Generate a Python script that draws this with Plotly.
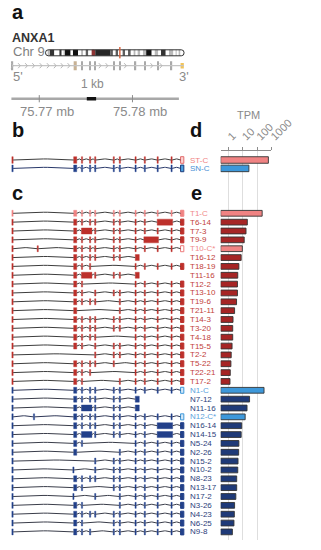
import math
import plotly.graph_objects as go

W, H = 321, 550
FONT = "Liberation Sans, Arial, Helvetica, sans-serif"

# ------------------------------------------------------------------ data
# chromosome 9 cytobands (Mb)
BAND_START = [0, 2.2, 4.6, 9.0, 14.2, 16.6, 18.5, 19.9, 25.6, 28.0, 33.2, 36.3, 38.4,
              41.0, 43.6, 47.3, 49.0, 50.7, 65.9, 68.7, 72.2, 74.0, 79.2, 81.1, 84.1,
              86.9, 90.4, 91.8, 93.9, 96.6, 99.3, 102.6, 108.2, 111.3, 114.9, 117.7,
              122.5, 125.8, 130.3, 133.5, 134.0, 135.9, 137.4]
BAND_STAIN = ['gneg', 'gpos25', 'gpos75', 'gneg', 'gpos75', 'gneg', 'gpos25', 'gpos100',
              'gneg', 'gpos100', 'gneg', 'gpos25', 'gneg', 'gpos50', 'gneg', 'acen', 'acen',
              'gvar', 'gpos50', 'gneg', 'gpos50', 'gneg', 'gpos50', 'gneg', 'gpos50', 'gneg',
              'gpos25', 'gneg', 'gpos25', 'gneg', 'gpos25', 'gpos100', 'gneg', 'gpos25',
              'gneg', 'gpos75', 'gneg', 'gpos25', 'gneg', 'gpos25', 'gneg', 'gpos25', 'gneg']
CHR9_LENGTH = 141.2
ANXA1_MB = 75.77

# exons, kb relative to 75.77 Mb
EXON_NAME = ['E1', 'E2', 'E3', 'E4', 'E5', 'E6', 'E7', 'E8', 'E9', 'E10', 'E11', 'E12',
             'R34', 'R910', 'R1011', 'T8', 'X1', 'X2', 'E2t']
EXON_START = [-2.94, 3.69, 4.52, 5.39, 5.94, 7.93, 8.58, 10.27, 11.26, 12.64, 14.13, 15.16,
              4.52, 11.22, 12.65, 10.30, -0.23, -0.63, 3.60]
EXON_END = [-2.80, 4.02, 4.65, 5.52, 6.07, 8.06, 8.71, 10.40, 11.39, 12.77, 14.26, 15.51,
            5.65, 12.79, 14.31, 10.73, -0.10, -0.50, 3.73]
CANONICAL = ['E1', 'E2', 'E3', 'E4', 'E5', 'E6', 'E7', 'E8', 'E9', 'E10', 'E11', 'E12']
CHEVRON_KB = [-2.89, -2.15, -1.39, -0.63, 0.17, 0.94, 1.69, 2.43, 3.16, 6.51, 7.24, 9.23,
              12.05, 13.05]
SCALE_RANGE_KB = [-2.99, 14.98]
SCALE_TICK_KB = [0, 10]
SCALE_TICK_TEXT = ['75.77 mb', '75.78 mb']
KB_BAR = [5.1, 6.1]

# panel b / d
REF_NAMES = ['ST-C', 'SN-C']
REF_TPM = [620, 27]

# panel c / e
ISO_NAMES = ['T1-C', 'T6-14', 'T7-3', 'T9-9', 'T10-C*', 'T16-12', 'T18-19', 'T11-16',
             'T12-2', 'T13-10', 'T19-6', 'T21-11', 'T14-3', 'T3-20', 'T4-18', 'T15-5',
             'T2-2', 'T5-22', 'T22-21', 'T17-2',
             'N1-C', 'N7-12', 'N11-16', 'N12-C*', 'N16-14', 'N14-15', 'N5-24', 'N2-26',
             'N15-2', 'N10-2', 'N8-23', 'N13-17', 'N17-2', 'N3-26', 'N4-23', 'N6-25', 'N9-8']
ISO_EXONS = [
    'E1 E2 E3 E4 E5 E6 E7 E8 E9 E10 E11 E12',
    'E1 E2 E3 E4 E5 E6 E7 E8 E9 R1011 E12',
    'E1 E2 R34 E5 E6 E7 E8 E9 E10 E11 E12',
    'E1 E2 E3 E4 E5 E6 E7 E8 R910 E11 E12',
    'E1 X1 E2 E3 E4 E5 E6 E7 E8 E9 E10 E11 E12',
    'E1 E2 E3 E4 E5 E6 E7 T8',
    'E1 E2 E3 E4 E8 E9 E10 E11 E12',
    'E1 E2 R34 E5 E6 E7 T8',
    'E1 E2 E3 E8 E9 E10 E11 E12',
    'E1 E2 E3 E5 E6 E7 E8 E9 E10 E11 E12',
    'E1 E2 E3 E4 E5 E7 E8 E9 E10 E11 E12',
    'E1 E2 E7 E8 E9 E10 E11 E12',
    'E1 E2 E3 E4 E5 E6 E7 E8 E9 E10 E11 E12',
    'E1 E2 E3 E4 E5 E6 E7 E8 E9 E10 E11 E12',
    'E1 E2 E3 E4 E5 E8 E9 E10 E11 E12',
    'E1 E2 E3 E5 E6 E7 E8 E9 E10 E11 E12',
    'E1 E5 E6 E7 E8 E9 E10 E11 E12',
    'E1 E2 E3 E4 E5 E6 E8 E9 E10 E11 E12',
    'E1 E2 E3 E4 E8 E9 E10 E11 E12',
    'E1 E2 E3 E7 E8 E9 E10 E11 E12',
    'E1 E2 E3 E4 E5 E6 E7 E8 E9 E10 E11 E12',
    'E1 E2 E3 E4 E5 E6 E7 T8',
    'E1 E2 R34 E5 E6 E7 T8',
    'E1 X2 E2 E3 E4 E5 E6 E7 E8 E9 E10 E11 E12',
    'E1 E2 E3 E4 E5 E6 E7 E8 E9 R1011 E12',
    'E1 E2 R34 E5 E6 E7 E8 E9 R1011 E12',
    'E1 E2 E3 E8 E9 E10 E11 E12',
    'E1 E2 E7 E8 E9 E10 E11 E12',
    'E1 E5 E6 E7 E8 E9 E10 E11 E12',
    'E1 E2t E5 E6 E7 E8 E9 E10 E11 E12',
    'E1 E2 E3 E4 E5 E6 E7 E8 E9 E10 E11 E12',
    'E1 E2 E3 E6 E7 E8 E9 E10 E11 E12',
    'E1 E2t E5 E7 E8 E9 E10 E11 E12',
    'E1 E2 E3 E7 E8 E9 E10 E11 E12',
    'E1 E2 E3 E4 E5 E6 E7 E8 E9 E10 E11 E12',
    'E1 E2 E3 E6 E7 E8 E9 E10 E11 E12',
    'E1 E2 E3 E4 E6 E7 E8 E9 E10 E11 E12',
]
ISO_TPM = [228, 21, 17, 12.7, 9.4, 7.8, 5.4, 4.5, 4.3, 4.3, 3.7, 2.7, 2.1, 2.0, 2.0, 1.8,
           1.57, 1.5, 1.35, 1.29,
           308, 30, 20, 14.8, 8.5, 7.8, 5.4, 5.2, 4.7, 4.5, 3.8, 3.8, 3.3, 2.7, 2.6, 2.45, 1.9]
TPM_TICKS = [1, 10, 100, 1000]

# ------------------------------------------------------------------ styles / layout
STAIN_COLORS = {'gneg': '#ffffff', 'gpos25': '#b9b9b9', 'gpos50': '#5e5e5e',
                'gpos75': '#333333', 'gpos100': '#111111', 'gvar': '#262626',
                'acen': '#8e3434'}
PINK, RED, DKRED = '#f08383', '#bd302b', '#a62525'
LBLUE, NAVY, DKNAVY = '#3d98da', '#22408a', '#1f3a78'
GRAY_TXT = '#8a8a8a'

KB0_PX, PX_PER_KB = 42.3, 10.04          # gene axis: pixel of 75.77 Mb, px per kb
X_DOM = [0, 0.65]
X_RANGE = [(0 - KB0_PX) / PX_PER_KB, (X_DOM[1] * W - KB0_PX) / PX_PER_KB]

ROW0_PX, ROW_PX = 213.3, 8.85            # panel c rows
TOP_PX, BOT_PX = 151, 540
REF_PX = [160.0, 168.4]                  # panel b rows


def row_of(p):
    return (p - ROW0_PX) / ROW_PX


REF_ROWS = [row_of(p) for p in REF_PX]
ISO_ROWS = list(range(len(ISO_NAMES)))

TPM_LOG_RANGE = [-0.54, 3.0]
TPM_BASE = 10 ** TPM_LOG_RANGE[0]

IDEO_L_PX, IDEO_R_PX = 49.0, 198.3
PX_PER_MB = (IDEO_R_PX - IDEO_L_PX) / CHR9_LENGTH
X3_DOM_PX = [47.0, 200.0]
X3_RANGE = [(X3_DOM_PX[0] - IDEO_L_PX) / PX_PER_MB, (X3_DOM_PX[1] - IDEO_L_PX) / PX_PER_MB]


def ydom(center_px, half_px):
    return [1 - (center_px + half_px) / H, 1 - (center_px - half_px) / H]


exon_lookup = {n: (s, e) for n, s, e in zip(EXON_NAME, EXON_START, EXON_END)}


def row_style(name):
    """exon colour, last-exon fill, last-exon line, label colour, bar colour, intron colour"""
    if name == 'ST-C':
        return RED, '#fbd3d3', '#e26a6a', PINK, PINK, '#3d3d3d'
    if name == 'SN-C':
        return NAVY, '#4aa3e2', DKNAVY, '#4a8fd4', LBLUE, '#28386a'
    if name.startswith('T'):
        if name == 'T1-C':
            return PINK, PINK, PINK, '#f08a8a', PINK, '#3d3d3d'
        if name.endswith('C*'):
            return RED, '#ffffff', '#ee7b7b', '#f08a8a', PINK, '#3d3d3d'
        return RED, RED, RED, '#c2413a', DKRED, '#3d3d3d'
    if name.endswith('-C') or name.endswith('C*'):
        return NAVY, '#d4e8f8', '#3d98da', '#59a2dd', LBLUE, '#2e3656'
    return NAVY, NAVY, NAVY, '#2c3e7a', DKNAVY, '#3a3d4a'


fig = go.Figure()

# ------------------------------------------------------------------ panel a: ideogram
band_end = BAND_START[1:] + [CHR9_LENGTH]
fig.add_trace(go.Bar(
    y=[0] * len(BAND_START), x=[e - s for s, e in zip(BAND_START, band_end)], base=BAND_START,
    orientation='h', width=1.0, xaxis='x3', yaxis='y5', hoverinfo='skip',
    marker=dict(color=[STAIN_COLORS[s] for s in BAND_STAIN], line=dict(width=0))))
rx = 3.0 / PX_PER_MB
L = CHR9_LENGTH
outline = (f"M {rx},-0.5 L {L - rx},-0.5 Q {L},-0.5 {L},0 Q {L},0.5 {L - rx},0.5 "
           f"L {rx},0.5 Q 0,0.5 0,0 Q 0,-0.5 {rx},-0.5 Z")
shapes = [
    dict(type='path', path=outline, xref='x3', yref='y5', line=dict(color='#333', width=1)),
    dict(type='line', x0=ANXA1_MB, x1=ANXA1_MB, y0=-0.95, y1=0.95, xref='x3', yref='y5',
         line=dict(color='#d8603a', width=1.4)),
]

# ------------------------------------------------------------------ panel a: gene model
g_start = exon_lookup['E1'][0]
g_end = exon_lookup['E12'][1]
fig.add_trace(go.Scatter(x=[g_start, g_end], y=[0, 0], mode='lines', xaxis='x', yaxis='y3',
                         line=dict(color='#c4c4c4', width=1.2), hoverinfo='skip'))
cx, cy = [], []
for c in CHEVRON_KB:
    cx += [c - 0.12, c + 0.12, c - 0.12, None]
    cy += [0.36, 0, -0.36, None]
fig.add_trace(go.Scatter(x=cx, y=cy, mode='lines', xaxis='x', yaxis='y3',
                         line=dict(color='#b8b8b8', width=1), hoverinfo='skip'))
ga_col, ga_w = [], []
for n in CANONICAL:
    if n == 'E2':
        ga_col.append('#c7b194'); ga_w.append(1.3)
    elif n == 'E12':
        ga_col.append('#f2c45a'); ga_w.append(0.8)
    else:
        ga_col.append('#a9a9a9'); ga_w.append(1.3)
fig.add_trace(go.Bar(
    y=[0] * len(CANONICAL), base=[exon_lookup[n][0] for n in CANONICAL],
    x=[exon_lookup[n][1] - exon_lookup[n][0] for n in CANONICAL],
    orientation='h', width=ga_w, xaxis='x', yaxis='y3', hoverinfo='skip',
    marker=dict(color=ga_col, line=dict(width=0))))

# ------------------------------------------------------------------ panel a: scale bar
fig.add_trace(go.Scatter(x=SCALE_RANGE_KB, y=[0, 0], mode='lines', xaxis='x', yaxis='y4',
                         line=dict(color='#a8a8a8', width=2.6), hoverinfo='skip'))
tx, ty = [], []
for t in SCALE_TICK_KB:
    tx += [t, t, None]
    ty += [-0.6, 0.6, None]
fig.add_trace(go.Scatter(x=tx, y=ty, mode='lines', xaxis='x', yaxis='y4',
                         line=dict(color='#8c8c8c', width=1), hoverinfo='skip'))
fig.add_trace(go.Scatter(x=KB_BAR, y=[0, 0], mode='lines', xaxis='x', yaxis='y4',
                         line=dict(color='#111', width=3.6), hoverinfo='skip'))

# ------------------------------------------------------------------ panels b, c: structures
rows_names = REF_NAMES + ISO_NAMES
rows_exons = ['E1 E2 E3 E4 E5 E6 E7 E8 E9 E10 E11 E12'] * 2 + ISO_EXONS
rows_y = REF_ROWS + ISO_ROWS
rows_h = [0.75, 0.75] + [0.68] * len(ISO_NAMES)

intron_xy = {}
eb, el, ey, ec, elc, elw, ew = [], [], [], [], [], [], []
ARC = 0.12
for name, exs, yv, hh in zip(rows_names, rows_exons, rows_y, rows_h):
    ex_col, last_fill, last_line, _, _, in_col = row_style(name)
    ivs = sorted([exon_lookup[n] for n in exs.split()])
    xs, ys = intron_xy.setdefault(in_col, ([], []))
    for (s0, e0), (s1, e1) in zip(ivs[:-1], ivs[1:]):
        n_pts = 14
        for k in range(n_pts + 1):
            t = k / n_pts
            xs.append(e0 + (s1 - e0) * t)
            ys.append(yv - ARC * math.sin(math.pi * t))
        xs.append(None); ys.append(None)
    for i, (s, e) in enumerate(ivs):
        last = (i == len(ivs) - 1) and exs.split()[-1] == 'E12'
        eb.append(s); el.append(e - s); ey.append(yv); ew.append(hh)
        if last:
            ec.append(last_fill); elc.append(last_line); elw.append(1.0)
        else:
            ec.append(ex_col); elc.append(ex_col); elw.append(0.4)

for col, (xs, ys) in intron_xy.items():
    fig.add_trace(go.Scatter(x=xs, y=ys, mode='lines', xaxis='x', yaxis='y',
                             line=dict(color=col, width=1), hoverinfo='skip'))
fig.add_trace(go.Bar(y=ey, base=eb, x=el, orientation='h', width=ew, xaxis='x', yaxis='y',
                     hoverinfo='skip', marker=dict(color=ec, line=dict(color=elc, width=elw))))

# ------------------------------------------------------------------ panels d, e: TPM bars
all_tpm = REF_TPM + ISO_TPM
fig.add_trace(go.Bar(
    y=rows_y, x=[v - TPM_BASE for v in all_tpm], base=TPM_BASE, orientation='h',
    width=[0.74, 0.74] + [0.65] * len(ISO_NAMES), xaxis='x2', yaxis='y', hoverinfo='skip',
    marker=dict(color=[row_style(n)[4] for n in rows_names],
                line=dict(color='#333333', width=0.9))))

# ------------------------------------------------------------------ annotations
annotations = []


def ann(text, xpx, ypx, size, color, xanchor='left', bold=False, **kw):
    annotations.append(dict(
        text=f"<b>{text}</b>" if bold else text, x=xpx / W, y=1 - ypx / H,
        xref='paper', yref='paper', xanchor=xanchor, yanchor='middle', showarrow=False,
        font=dict(family=FONT, size=size, color=color), **kw))


for lab, xp, yp in [('a', 11, 11.8), ('b', 11, 130.1), ('c', 11, 193.3),
                    ('d', 203, 130.1), ('e', 203.5, 193.3)]:
    ann(lab, xp, yp, 20, '#111', bold=True)
ann('ANXA1', 11, 38, 12.5, '#333', bold=True)
ann('Chr 9', 11.5, 52, 13, '#808080')
ann("5'", 11.5, 76.7, 13, GRAY_TXT)
ann("3'", 191, 76.7, 13, GRAY_TXT)
ann('1 kb', 100, 84.3, 12, GRAY_TXT, xanchor='center')
for t, txt in zip(SCALE_TICK_KB, SCALE_TICK_TEXT):
    ann(txt, KB0_PX + (t + 0.8) * PX_PER_KB, 111.5, 13, GRAY_TXT, xanchor='center')
ann('TPM', 267.5, 115.5, 11, GRAY_TXT, xanchor='center')

for name, yv in zip(rows_names, rows_y):
    annotations.append(dict(
        text=name, x=202 / W, y=yv, xref='paper', yref='y', xanchor='left',
        yanchor='middle', showarrow=False,
        font=dict(family=FONT, size=8, color=row_style(name)[3])))

# ------------------------------------------------------------------ layout
fig.update_layout(
    width=W, height=H, margin=dict(l=0, r=0, t=0, b=0),
    paper_bgcolor='white', plot_bgcolor='white', showlegend=False, barmode='overlay',
    font=dict(family=FONT),
    xaxis=dict(domain=X_DOM, range=X_RANGE, visible=False, anchor='y', fixedrange=True),
    yaxis=dict(domain=[1 - BOT_PX / H, 1 - TOP_PX / H],
               range=[row_of(BOT_PX), row_of(TOP_PX)], visible=False, anchor='x'),
    xaxis2=dict(domain=[237.7 / W, 292.3 / W], type='log', range=TPM_LOG_RANGE,
                side='top', anchor='y', tickvals=TPM_TICKS,
                ticktext=[str(v) for v in TPM_TICKS], tickangle=-45,
                tickfont=dict(family=FONT, size=11, color=GRAY_TXT),
                showline=True, linecolor='#8c8c8c', linewidth=1,
                ticks='outside', ticklen=3, tickcolor='#8c8c8c',
                showgrid=True, gridcolor='#dedede', gridwidth=1, zeroline=False),
    xaxis3=dict(domain=[X3_DOM_PX[0] / W, X3_DOM_PX[1] / W], range=X3_RANGE,
                visible=False, anchor='y5'),
    yaxis3=dict(domain=ydom(65.7, 7), range=[-1, 1], visible=False, anchor='x'),
    yaxis4=dict(domain=ydom(98.7, 6), range=[-1, 1], visible=False, anchor='x'),
    yaxis5=dict(domain=ydom(52.8, 6), range=[-1, 1], visible=False, anchor='x3'),
    shapes=shapes, annotations=annotations,
)

fig.write_html("out.html", config={'displayModeBar': False},
               post_script="document.body.style.margin='0';"
                           "document.body.style.overflow='hidden';")
